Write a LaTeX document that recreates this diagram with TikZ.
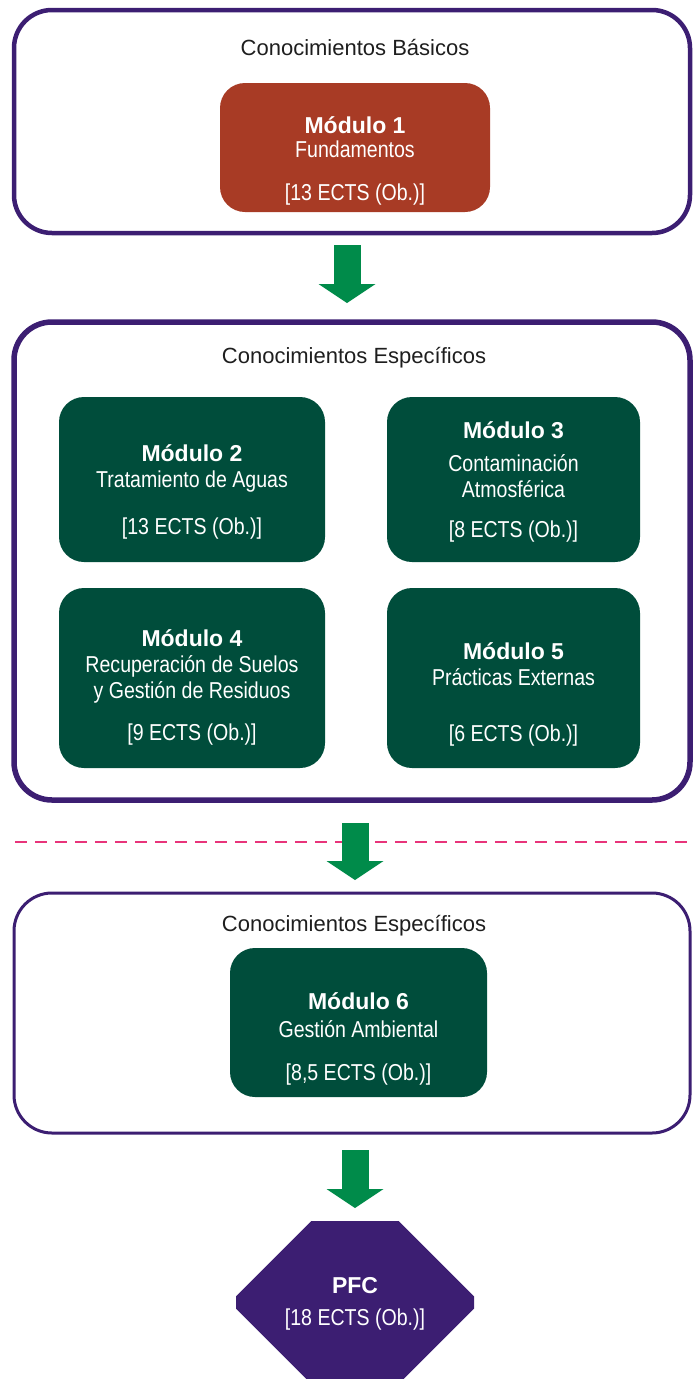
\documentclass[tikz,border=0pt]{standalone}
\usepackage{fontspec}
\setmainfont{Liberation Sans}
\newfontfamily\narrowfont[FakeStretch=0.85]{Liberation Sans}
\usetikzlibrary{shapes.misc,arrows.meta}
\definecolor{frame}{RGB}{60,30,114}
\definecolor{rust}{RGB}{168,59,37}
\definecolor{pine}{RGB}{0,77,59}
\definecolor{leaf}{RGB}{0,139,74}
\definecolor{cut}{RGB}{232,52,122}
\definecolor{ink}{RGB}{30,30,30}
% first line of a module, with a strut that sets its height
\newcommand{\modname}[2][22]{\rule{0pt}{#1pt}\smash{\rmfamily\bfseries #2}}

\begin{document}
\begin{tikzpicture}
  [x=1pt,y=-1pt,
   area/.style={rectangle,draw=frame,rounded corners=38pt,inner sep=0,
                outer sep=0,minimum width=676pt},
   heading/.style={text=ink,font=\fontsize{22}{26}\selectfont},
   module/.style={rectangle,fill=pine,rounded corners=25pt,align=center,
                  text=white,inner sep=0,outer sep=0,
                  font=\narrowfont\fontsize{23}{26}\selectfont},
   final/.style={chamfered rectangle,chamfered rectangle xsep=40pt,
                 chamfered rectangle ysep=48pt,fill=frame,align=center,
                 text=white,inner sep=0,outer sep=0,
                 minimum width=238pt,minimum height=163pt,
                 font=\narrowfont\fontsize{23}{26}\selectfont},
   flow/.style={draw=leaf,line width=27pt,
                -{Triangle[length=19pt,width=57pt,line width=0pt]}}]
  \clip (0,0) rectangle (693,1379);
  \useasboundingbox (0,0) rectangle (693,1379);
  % etapas
  \node[area,line width=4.5pt,minimum height=223pt] (basic) at (352,121.5) {};
  \node[heading] (basictitle) at (355,48) {Conocimientos Básicos};
  \node[area,line width=5.5pt,minimum height=478pt] (core) at (352,561) {};
  \node[heading] (coretitle) at (354,358) {Conocimientos Específicos};
  \node[area,line width=3pt,minimum height=240pt] (extra) at (352,1013) {};
  \node[heading] (extratitle) at (354,926) {Conocimientos Específicos};
  % modulos
  \node[module,fill=rust,minimum width=270pt,minimum height=129pt] (mod1) at (355,147.5)
    {\modname[44]{Módulo 1}\\[-2pt] Fundamentos\\[17pt] {[}13 ECTS (Ob.){]}};
  \node[module,minimum width=266pt,minimum height=165pt] (mod2) at (192,479.5)
    {\modname[42]{Módulo 2}\\ Tratamiento de Aguas\\[21pt] {[}13 ECTS (Ob.){]}};
  \node[module,minimum width=253pt,minimum height=165pt] (mod3) at (513.5,479.5)
    {\modname{Módulo 3}\\[7pt] Contaminación\\ Atmosférica\\[14pt] {[}8 ECTS (Ob.){]}};
  \node[module,minimum width=266pt,minimum height=180pt] (mod4) at (192,678)
    {\modname[36]{Módulo 4}\\ Recuperación de Suelos\\ y Gestión de Residuos\\[16pt] {[}9 ECTS (Ob.){]}};
  \node[module,minimum width=253pt,minimum height=180pt] (mod5) at (513.5,678)
    {\modname[50]{Módulo 5}\\ Prácticas Externas\\[30pt] {[}6 ECTS (Ob.){]}};
  \node[module,minimum width=257pt,minimum height=149pt] (mod6) at (358.5,1022.5)
    {\modname[50]{Módulo 6}\\[2pt] Gestión Ambiental\\[17pt] {[}8,5 ECTS (Ob.){]}};
  \node[final] (pfc) at (355,1302.5) {\modname[18]{PFC}\\[6pt] {[}18 ECTS (Ob.){]}};
  % separacion
  \draw[cut,line width=2pt,dash pattern=on 12pt off 8pt] (15,842) -- (693,842);
  % flechas
  \draw[flow,shorten <=12pt,shorten >=19pt] ([xshift=-5pt]basic.south) -- ([xshift=-5pt]core.north);
  \draw[flow,shorten <=23pt,shorten >=13pt] ([xshift=3pt]core.south) -- ([xshift=3pt]extra.north);
  \draw[flow,shorten <=17pt,shorten >=13pt] (extra.south -| pfc) -- (pfc.north);
\end{tikzpicture}
\end{document}
